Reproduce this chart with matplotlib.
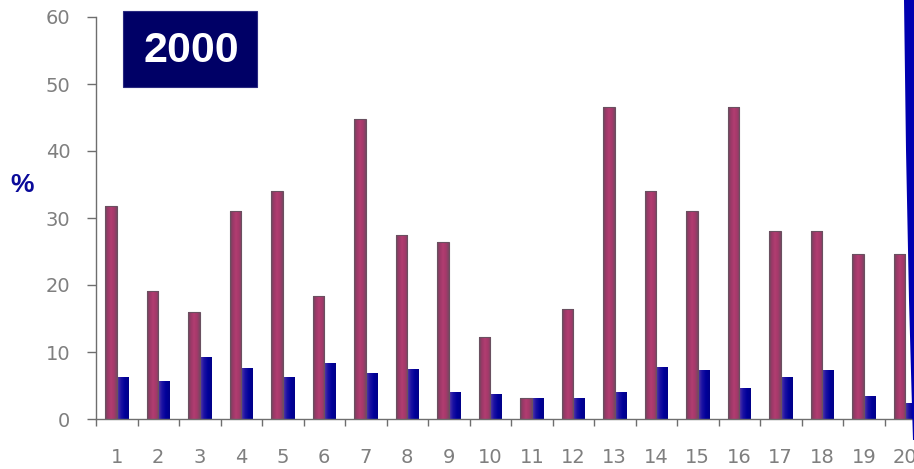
import numpy as np
import matplotlib.pyplot as plt
from matplotlib.colors import LinearSegmentedColormap
from matplotlib.patches import Rectangle, Polygon

# categories and the two series (%)
categories = [str(i) for i in range(1, 21)]
series_a = [31.8, 19.1, 16.0, 31.0, 34.1, 18.4, 44.8, 27.4, 26.4, 12.2,
            3.1, 16.4, 46.5, 34.1, 31.0, 46.6, 28.0, 28.0, 24.7, 24.7]
series_b = [6.3, 5.6, 9.3, 7.6, 6.3, 8.3, 6.8, 7.4, 4.1, 3.8,
            3.1, 3.2, 4.1, 7.8, 7.3, 4.6, 6.3, 7.3, 3.4, 2.4]
y_ticks = [0, 10, 20, 30, 40, 50, 60]
year_label = "2000"

W, H = 914, 469
fig = plt.figure(figsize=(W / 100, H / 100), dpi=100)
fig.patch.set_facecolor("white")

# axes run past the right edge, so the last category is cut off
ax = fig.add_axes([96 / W, 50 / H, 830 / W, 402 / H])
ax.set_facecolor("white")

x = np.arange(len(categories))
bw = 0.28

maroon = LinearSegmentedColormap.from_list(
    "maroon", ["#6e4a5e", "#9c3868", "#b23d71", "#a6396b", "#7a4662"])
navy = LinearSegmentedColormap.from_list(
    "navy", ["#5a3aa6", "#1c12a4", "#000099", "#000088"])
grad = np.linspace(0, 1, 64).reshape(1, -1)


def shade_bars(bars, cmap):
    # fill each bar with a horizontal gradient clipped to its outline
    for b in bars:
        x0, y0 = b.get_x(), b.get_y()
        w, h = b.get_width(), b.get_height()
        im = ax.imshow(grad, cmap=cmap, aspect="auto",
                       extent=(x0, x0 + w, y0, y0 + h), zorder=2,
                       interpolation="bilinear")
        im.set_clip_path(b)
        b.set_facecolor("none")


bars_a = ax.bar(x - bw / 2, series_a, bw, color="#9c3868",
                edgecolor="#6a5060", linewidth=0.8, zorder=3)
bars_b = ax.bar(x + bw / 2, series_b, bw, color="#000099",
                linewidth=0, zorder=3)
shade_bars(bars_a, maroon)
shade_bars(bars_b, navy)

ax.set_xlim(-0.5, len(categories) - 0.5)
ax.set_ylim(0, 60)

for side in ["top", "right"]:
    ax.spines[side].set_visible(False)
for side in ["left", "bottom"]:
    ax.spines[side].set_color("#6e6e6e")
    ax.spines[side].set_linewidth(1.0)

ax.set_yticks(y_ticks)
ax.tick_params(axis="y", length=6.5, width=1, color="#6e6e6e",
               labelcolor="#7f7f7f", labelsize=14, pad=12)

ax.set_xticks(x)
ax.set_xticklabels(categories)
ax.set_xticks(np.arange(-0.5, len(categories)), minor=True)
ax.tick_params(axis="x", which="major", length=0, labelcolor="#7f7f7f",
               labelsize=14, pad=21)
ax.tick_params(axis="x", which="minor", length=5, width=1, color="#6e6e6e")

# year badge
fig.patches.append(Rectangle((123 / W, 1 - 87 / H), 134 / W, 76 / H,
                             transform=fig.transFigure, facecolor="#000066",
                             edgecolor="#2a2a80", linewidth=0.8, zorder=5))
fig.text(191 / W, 1 - 51 / H, year_label, color="white", fontsize=31,
         fontweight="bold", family="Liberation Sans", ha="center",
         va="center", zorder=6)

# axis unit
fig.text(22 / W, 1 - 185 / H, "%", color="#0a0a9a", fontsize=19,
         fontweight="bold", family="Liberation Sans", ha="center",
         va="center")

# blue panel edge on the far right
edge = [(904, 0), (906, 150), (909, 300), (911.5, 390), (913, 440),
        (914, 440), (914, 0)]
fig.patches.append(Polygon([(px / W, 1 - py / H) for px, py in edge],
                           closed=True, transform=fig.transFigure,
                           facecolor="#0000b0", edgecolor="none", zorder=7))

fig.savefig("out.png", dpi=100)
